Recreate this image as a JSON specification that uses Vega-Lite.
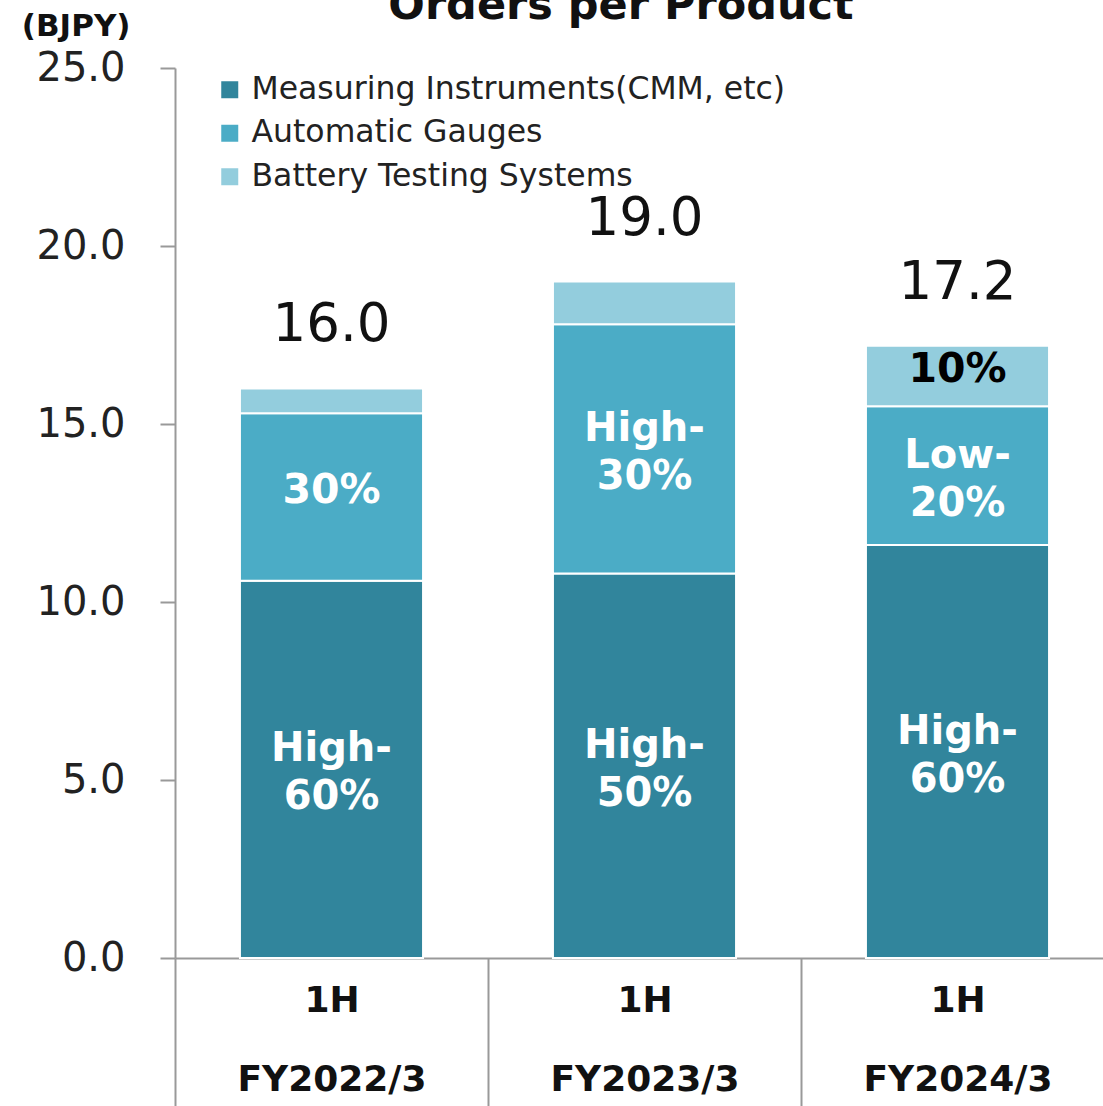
{
  "$schema": "https://vega.github.io/schema/vega-lite/v6.json",
  "width": 928,
  "height": 890,
  "autosize": {"type": "none"},
  "padding": {"left": 175, "top": 68, "right": 0, "bottom": 148},
  "background": "white",
  "view": {"stroke": null},
  "title": {
    "text": "Orders per Product",
    "fontSize": 43,
    "fontWeight": "bold",
    "font": "DejaVu Sans",
    "color": "#111",
    "offset": -61,
    "dx": -18,
    "anchor": "middle",
    "frame": "group",
    "baseline": "bottom"
  },
  "data": {
    "values": [
      {"period": "FY2022/3", "product": "Measuring Instruments(CMM, etc)", "rank": 1, "value": 10.6, "label": "High-\n60%"},
      {"period": "FY2022/3", "product": "Automatic Gauges", "rank": 2, "value": 4.7, "label": "30%"},
      {"period": "FY2022/3", "product": "Battery Testing Systems", "rank": 3, "value": 0.7, "label": ""},
      {"period": "FY2023/3", "product": "Measuring Instruments(CMM, etc)", "rank": 1, "value": 10.8, "label": "High-\n50%"},
      {"period": "FY2023/3", "product": "Automatic Gauges", "rank": 2, "value": 7.0, "label": "High-\n30%"},
      {"period": "FY2023/3", "product": "Battery Testing Systems", "rank": 3, "value": 1.2, "label": ""},
      {"period": "FY2024/3", "product": "Measuring Instruments(CMM, etc)", "rank": 1, "value": 11.6, "label": "High-\n60%"},
      {"period": "FY2024/3", "product": "Automatic Gauges", "rank": 2, "value": 3.9, "label": "Low-\n20%"},
      {"period": "FY2024/3", "product": "Battery Testing Systems", "rank": 3, "value": 1.7, "label": "10%"}
    ]
  },
  "transform": [
    {"stack": "value", "groupby": ["period"], "sort": [{"field": "rank", "order": "ascending"}], "as": ["v0", "v1"]}
  ],
  "encoding": {
    "x": {
      "field": "period",
      "type": "nominal",
      "sort": null,
      "scale": {"paddingInner": 0, "paddingOuter": 0, "range": [0, 939]},
      "axis": {
        "title": null,
        "labelAngle": 0,
        "labelExpr": "datum.label ? ['1H', datum.label] : ''",
        "labelFont": "DejaVu Sans",
        "labelFontSize": 36,
        "labelFontWeight": "bold",
        "labelColor": "#111",
        "labelLineHeight": 79,
        "labelBaseline": "top",
        "labelPadding": -123,
        "labelLimit": 0,
        "tickBand": "extent",
        "tickSize": 148,
        "tickColor": "#999",
        "tickWidth": 2,
        "domainColor": "#999",
        "domainWidth": 2
      }
    }
  },
  "layer": [
    {
      "mark": {"type": "bar", "stroke": "white", "strokeWidth": 2, "width": {"band": 0.585}},
      "encoding": {
        "y": {
          "field": "v0",
          "type": "quantitative",
          "scale": {"domain": [0, 25], "nice": false},
          "axis": {
            "values": [0, 5, 10, 15, 20, 25],
            "format": ".1f",
            "grid": false,
            "labelFont": "DejaVu Sans",
            "labelFontSize": 40,
            "labelColor": "#222",
            "labelPadding": 35,
            "tickSize": 15,
            "tickColor": "#999",
            "tickWidth": 2,
            "domainColor": "#999",
            "domainWidth": 2,
            "title": "(BJPY)",
            "titleAngle": 0,
            "titleX": -45,
            "titleY": -42,
            "titleAlign": "right",
            "titleBaseline": "middle",
            "titleFont": "DejaVu Sans",
            "titleFontSize": 31,
            "titleFontWeight": "bold",
            "titleColor": "#111"
          }
        },
        "y2": {"field": "v1"},
        "color": {
          "field": "product",
          "type": "nominal",
          "scale": {
            "domain": ["Measuring Instruments(CMM, etc)", "Automatic Gauges", "Battery Testing Systems"],
            "range": ["#31859C", "#4BACC6", "#93CDDD"]
          },
          "legend": {
            "orient": "none",
            "legendX": 39,
            "legendY": 6,
            "title": null,
            "symbolType": "square",
            "symbolSize": 289,
            "symbolStrokeWidth": 0,
            "labelFont": "DejaVu Sans",
            "labelFontSize": 31.5,
            "labelColor": "#222",
            "labelOffset": 6,
            "labelLimit": 0,
            "rowPadding": 10.5
          }
        }
      }
    },
    {
      "transform": [
        {"filter": "indexof(datum.label, '\\n') >= 0"},
        {"calculate": "(datum.v0 + datum.v1) / 2", "as": "mid"}
      ],
      "mark": {
        "type": "text",
        "font": "DejaVu Sans",
        "fontWeight": "bold",
        "fontSize": 40,
        "lineHeight": 48,
        "lineBreak": "\n",
        "baseline": "middle",
        "align": "center",
        "dy": -20,
        "color": "#ffffff"
      },
      "encoding": {
        "y": {"field": "mid", "type": "quantitative"},
        "text": {"field": "label"}
      }
    },
    {
      "transform": [
        {"filter": "datum.label != '' && indexof(datum.label, '\\n') < 0"},
        {"calculate": "(datum.v0 + datum.v1) / 2", "as": "mid"}
      ],
      "mark": {
        "type": "text",
        "font": "DejaVu Sans",
        "fontWeight": "bold",
        "fontSize": 41,
        "baseline": "middle",
        "align": "center",
        "dy": -6
      },
      "encoding": {
        "y": {"field": "mid", "type": "quantitative"},
        "text": {"field": "label"},
        "color": {
          "condition": {"test": "datum.product === 'Battery Testing Systems'", "value": "#000000"},
          "value": "#ffffff"
        }
      }
    },
    {
      "transform": [{"aggregate": [{"op": "sum", "field": "value", "as": "total"}], "groupby": ["period"]}],
      "mark": {
        "type": "text",
        "font": "DejaVu Sans",
        "fontSize": 53,
        "baseline": "alphabetic",
        "align": "center",
        "dy": -47,
        "color": "#111"
      },
      "encoding": {
        "y": {"field": "total", "type": "quantitative"},
        "text": {"field": "total", "type": "quantitative", "format": ".1f"}
      }
    }
  ]
}
